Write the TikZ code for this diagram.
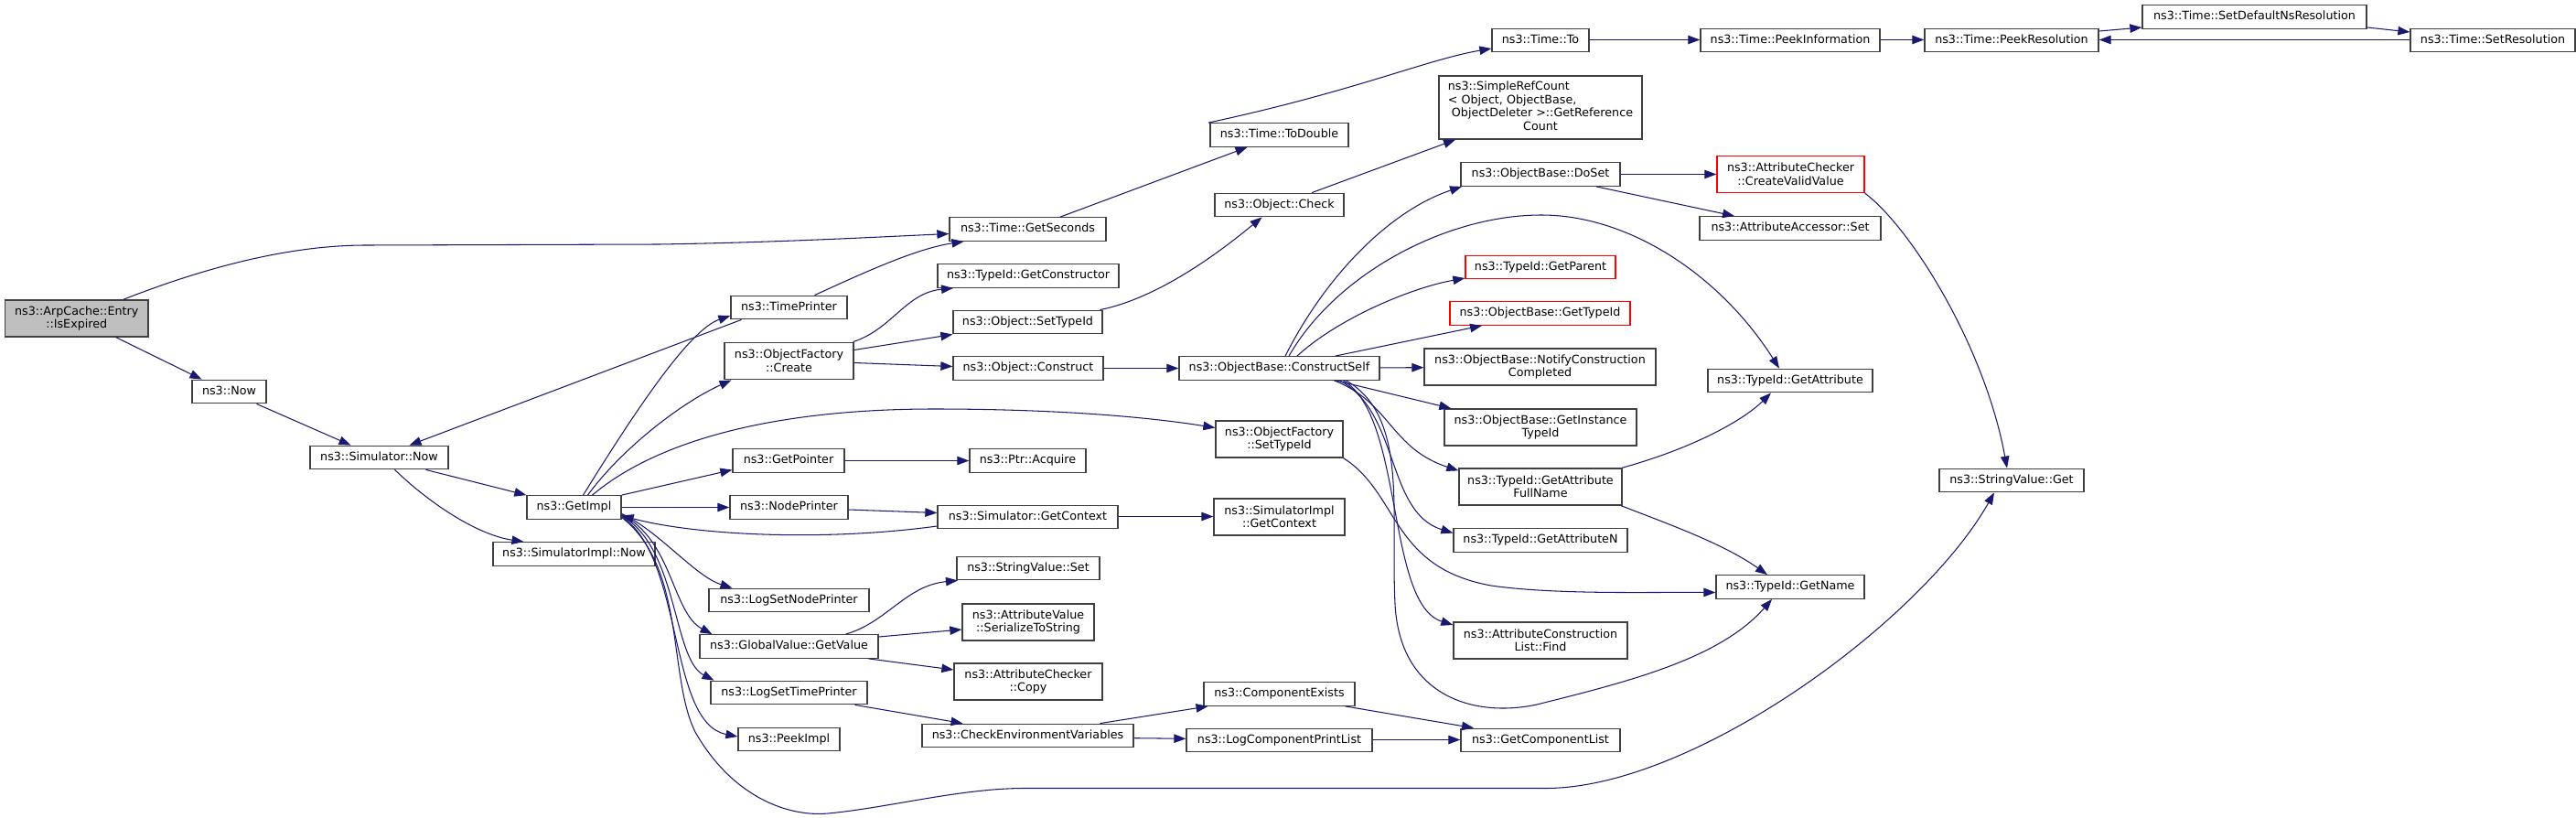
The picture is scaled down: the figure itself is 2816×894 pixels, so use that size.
\documentclass[tikz,border=0pt]{standalone}
\usepackage{fontspec}
\setmainfont{DejaVu Sans}
\usetikzlibrary{arrows.meta}
\definecolor{edgec}{RGB}{25,25,112}
\definecolor{nodegray}{RGB}{191,191,191}
\newcommand\dvsfont{\fontsize{12.7}{14.5}\selectfont}
\begin{document}
\begin{tikzpicture}[x=1pt,y=-1pt,
  nb/.style={draw=black!75, line width=1.3pt, fill=white, inner sep=0pt, font=\dvsfont, minimum height=25.5pt, text height=9.5pt, text depth=3pt},
  nbb/.style={draw=black!75, line width=1.3pt, fill=white, inner sep=0pt, font=\dvsfont, align=center, minimum height=40pt},
  redb/.style={draw=red},
  ed/.style={draw=edgec, line width=1.05pt, -{Triangle[length=13pt,width=9.5pt]}},
]
\useasboundingbox (0,0) rectangle (2816,894);
\fill[white] (0,0) rectangle (2816,894);

% column 0
\node[nbb, fill=nodegray, minimum width=156.5pt] (isexp) at (83.75,348) {ns3::ArpCache::Entry\\::IsExpired};
\node[nb, minimum width=81pt] (now) at (250.5,428) {ns3::Now};
\node[nb, minimum width=151pt] (simnow) at (414.5,500) {ns3::Simulator::Now};
\node[nb, minimum width=103pt] (getimpl) at (627.5,554.5) {ns3::GetImpl};
\node[nb, minimum width=177pt] (simimplnow) at (627.5,605.5) {ns3::SimulatorImpl::Now};

% column 862.5
\node[nb, minimum width=127pt] (timeprinter) at (862.5,336) {ns3::TimePrinter};
\node[nbb, minimum width=141pt, minimum height=40.5pt] (ofcreate) at (862.5,394.5) {ns3::ObjectFactory\\::Create};
\node[nb, minimum width=122pt] (getpointer) at (862,503.5) {ns3::GetPointer};
\node[nb, minimum width=129pt] (nodeprinter) at (862.5,554.5) {ns3::NodePrinter};
\node[nb, minimum width=175pt] (logsetnode) at (862.5,656) {ns3::LogSetNodePrinter};
\node[nb, minimum width=195pt] (getvalue) at (862.5,706.5) {ns3::GlobalValue::GetValue};
\node[nb, minimum width=171pt] (logsettime) at (862.5,757) {ns3::LogSetTimePrinter};
\node[nb, minimum width=111pt] (peekimpl) at (862.5,808) {ns3::PeekImpl};

% column 1123.5
\node[nb, minimum width=171pt] (getseconds) at (1123.5,250.5) {ns3::Time::GetSeconds};
\node[nb, minimum width=198pt] (getconstructor) at (1124,301.5) {ns3::TypeId::GetConstructor};
\node[nb, minimum width=163pt] (objsettypeid) at (1123.5,352) {ns3::Object::SetTypeId};
\node[nb, minimum width=164pt] (construct) at (1124,402.5) {ns3::Object::Construct};
\node[nb, minimum width=127pt] (ptracquire) at (1123.5,503.5) {ns3::Ptr::Acquire};
\node[nb, minimum width=197pt] (simgetcontext) at (1123.5,565) {ns3::Simulator::GetContext};
\node[nb, minimum width=156pt] (strset) at (1124,621) {ns3::StringValue::Set};
\node[nbb, minimum width=144pt] (serialize) at (1124,680) {ns3::AttributeValue\\::SerializeToString};
\node[nbb, minimum width=162pt] (checkercopy) at (1124,745) {ns3::AttributeChecker\\::Copy};
\node[nb, minimum width=231pt] (checkenv) at (1123.5,804) {ns3::CheckEnvironmentVariables};

% column 1398.5
\node[nb, minimum width=151pt] (todouble) at (1398.5,147.5) {ns3::Time::ToDouble};
\node[nb, minimum width=141pt] (objcheck) at (1398.5,224) {ns3::Object::Check};
\node[nb, minimum width=219pt] (constructself) at (1398.5,402.5) {ns3::ObjectBase::ConstructSelf};
\node[nbb, minimum width=139pt] (ofsettypeid) at (1398.5,480) {ns3::ObjectFactory\\::SetTypeId};
\node[nbb, minimum width=143pt] (simimplgetcontext) at (1398.5,565) {ns3::SimulatorImpl\\::GetContext};
\node[nb, minimum width=165pt] (compexists) at (1398.5,758.5) {ns3::ComponentExists};
\node[nb, minimum width=203pt] (logcompprint) at (1398.5,809) {ns3::LogComponentPrintList};

% column 1684
\node[nb, minimum width=106pt] (timeto) at (1684,44) {ns3::Time::To};
\node[draw=black!75, line width=1.3pt, fill=white, inner sep=0pt, font=\dvsfont, minimum width=222pt, minimum height=69pt] (simplerefcount) at (1684,117.5)
  {\begin{tabular}{@{}l@{}}ns3::SimpleRefCount\\< Object, ObjectBase,\\\ ObjectDeleter >::GetReference\\\multicolumn{1}{@{}c@{}}{Count}\end{tabular}};
\node[nb, minimum width=174pt] (doset) at (1684,190.5) {ns3::ObjectBase::DoSet};
\node[nb, redb, minimum width=164pt] (getparent) at (1684,292) {ns3::TypeId::GetParent};
\node[nb, redb, minimum width=197pt] (objgettypeid) at (1683.5,342.5) {ns3::ObjectBase::GetTypeId};
\node[nbb, minimum width=253pt] (notify) at (1683.5,401) {ns3::ObjectBase::NotifyConstruction\\Completed};
\node[nbb, minimum width=210pt] (getinstance) at (1684,467) {ns3::ObjectBase::GetInstance\\TypeId};
\node[nbb, minimum width=178pt] (getattrfullname) at (1684,532) {ns3::TypeId::GetAttribute\\FullName};
\node[nb, minimum width=190pt] (getattrn) at (1684,590.5) {ns3::TypeId::GetAttributeN};
\node[nbb, minimum width=190pt] (findattr) at (1684,700) {ns3::AttributeConstruction\\List::Find};
\node[nb, minimum width=174pt] (getcomplist) at (1684,809) {ns3::GetComponentList};

% column 1957
\node[nb, minimum width=196pt] (peekinfo) at (1957,44) {ns3::Time::PeekInformation};
\node[nbb, redb, minimum width=161pt] (createvalid) at (1957.5,190.5) {ns3::AttributeChecker\\::CreateValidValue};
\node[nb, minimum width=198pt] (accessorset) at (1957,249.5) {ns3::AttributeAccessor::Set};
\node[nb, minimum width=180pt] (getattribute) at (1957,416) {ns3::TypeId::GetAttribute};
\node[nb, minimum width=162pt] (getname) at (1957,641.5) {ns3::TypeId::GetName};

% right columns
\node[nb, minimum width=190pt] (peekres) at (2199,44) {ns3::Time::PeekResolution};
\node[nb, minimum width=158pt] (strget) at (2199,525) {ns3::StringValue::Get};
\node[nb, minimum width=245pt] (setdefault) at (2464.5,18.5) {ns3::Time::SetDefaultNsResolution};
\node[nb, minimum width=180pt] (setres) at (2725,44) {ns3::Time::SetResolution};

% edges
\draw[ed] ([xshift=51pt]isexp.north) .. controls (230,290) and (320,268) .. (400,268) -- (720,267) .. controls (850,265) and (960,259) .. ([yshift=-5pt]getseconds.west);
\draw[ed] ([xshift=43pt]isexp.south) -- ([xshift=-30pt]now.north);
\draw[ed] ([xshift=30pt]now.south) -- ([xshift=-31pt]simnow.north);
\draw[ed] ([xshift=-52pt]timeprinter.south) -- ([xshift=33pt]simnow.north);
\draw[ed] ([xshift=51pt]simnow.south) -- (getimpl.north west);
\draw[ed] ([xshift=17pt]simnow.south) .. controls (475,555) and (525,585) .. ([xshift=-55pt]simimplnow.north);
\draw[ed] ([xshift=10pt]getimpl.north) .. controls (700,440) and (755,360) .. ([yshift=-9pt]timeprinter.west);
\draw[ed] ([xshift=15pt]getimpl.north) .. controls (680,490) and (745,440) .. ([xshift=-63pt]ofcreate.south);
\draw[ed] ([xshift=20pt]getimpl.north) .. controls (720,480) and (850,447) .. (1021,447) .. controls (1150,447) and (1250,455) .. ([yshift=12.5pt]ofsettypeid.west);
\draw[ed] (getimpl.north east) -- ([yshift=-10pt]getpointer.west);
\draw[ed] (getimpl) -- (nodeprinter);
\draw[ed] ([yshift=-10pt]simgetcontext.west) .. controls (900,592) and (760,585) .. ([yshift=-9pt]getimpl.east);
\draw[ed] ([yshift=-7pt]getimpl.east) .. controls (720,580) and (760,630) .. ([xshift=-62pt]logsetnode.north);
\draw[ed] ([yshift=-8pt]getimpl.east) .. controls (735,590) and (735,670) .. ([xshift=-84pt]getvalue.north);
\draw[ed] ([yshift=-9pt]getimpl.east) .. controls (742,600) and (735,720) .. ([xshift=-82pt]logsettime.north);
\draw[ed] ([yshift=-10pt]getimpl.east) .. controls (748,610) and (730,790) .. ([yshift=3pt]peekimpl.west);
\draw[ed] ([yshift=-11pt]getimpl.east) .. controls (750,620) and (730,740) .. (760,800) .. controls (800,870) and (860,893) .. (905,889) .. controls (970,883) and (1050,861.5) .. (1120,861.5) -- (1690,861.5) .. controls (1850,861.5) and (2100,680) .. ([xshift=-19pt]strget.south);
\draw[ed] ([xshift=28pt]timeprinter.north) .. controls (940,300) and (1000,272) .. ([xshift=-70pt]getseconds.south);
\draw[ed] ([xshift=70pt]ofcreate.north) .. controls (975,360) and (990,320) .. ([xshift=-82pt]getconstructor.south);
\draw[ed] ([yshift=12pt]ofcreate.east) -- ([yshift=-13.5pt]objsettypeid.west);
\draw[ed] ([yshift=-2pt]ofcreate.east) -- ([yshift=2pt]construct.west);
\draw[ed] ([xshift=79pt]objsettypeid.north) .. controls (1270,325) and (1340,270) .. ([xshift=-19pt]objcheck.south);
\draw[ed] (construct) -- (constructself);
\draw[ed] ([xshift=35.5pt]getseconds.north) -- ([xshift=-35pt]todouble.south);
\draw[ed] ([xshift=-77.5pt]todouble.north) .. controls (1480,100) and (1560,65) .. ([yshift=-9pt]timeto.west);
\draw[ed] ([xshift=35.5pt]objcheck.north) -- ([xshift=-93pt]simplerefcount.south);
\draw[ed] ([yshift=0.5pt]timeto.east) -- ([yshift=0.5pt]peekinfo.west);
\draw[ed] ([yshift=0.5pt]peekinfo.east) -- ([yshift=0.5pt]peekres.west);
\draw[ed] ([yshift=10pt]peekres.east) -- ([yshift=-11.5pt]setdefault.west);
\draw[ed] ([yshift=-11.5pt]setdefault.east) -- ([yshift=9pt]setres.west);
\draw[ed] ([yshift=0.5pt]setres.west) -- ([yshift=0.5pt]peekres.east);
\draw[ed] ([xshift=6.5pt]constructself.north) .. controls (1450,300) and (1520,230) .. ([xshift=-86pt]doset.south);
\draw[ed] ([xshift=10.5pt]constructself.north) .. controls (1460,300) and (1580,235) .. (1685,235) .. controls (1780,235) and (1880,300) .. ([xshift=-12pt]getattribute.north);
\draw[ed] ([xshift=19.5pt]constructself.north) .. controls (1460,350) and (1540,315) .. ([yshift=-12pt]getparent.west);
\draw[ed] ([xshift=61pt]constructself.north) -- ([xshift=-63.5pt]objgettypeid.south);
\draw[ed] (constructself) -- (notify);
\draw[ed] ([xshift=62pt]constructself.south) -- ([xshift=8pt]getinstance.north west);
\draw[ed] ([xshift=60pt]constructself.south) .. controls (1520,440) and (1520,490) .. ([yshift=-3pt]getattrfullname.north west);
\draw[ed] ([xshift=66pt]constructself.south) .. controls (1530,450) and (1515,560) .. ([yshift=8pt]getattrn.west);
\draw[ed] ([xshift=70pt]constructself.south) .. controls (1535,455) and (1515,660) .. ([yshift=17pt]findattr.west);
\draw[ed] ([xshift=73pt]constructself.south) .. controls (1540,455) and (1520,560) .. (1525,660) .. controls (1530,760) and (1610,785) .. (1680,770) .. controls (1780,745) and (1880,720) .. ([xshift=-20pt]getname.south);
\draw[ed] (ofsettypeid.south east) .. controls (1530,540) and (1520,620) .. (1630,640) .. controls (1700,650) and (1800,647) .. ([yshift=-6pt]getname.west);
\draw[ed] ([xshift=89pt]getattrfullname.north) .. controls (1850,490) and (1905,460) .. ([xshift=-21pt]getattribute.south);
\draw[ed] ([xshift=88pt]getattrfullname.south) .. controls (1830,575) and (1885,595) .. ([xshift=-25pt]getname.north);
\draw[ed] (doset) -- (createvalid);
\draw[ed] ([xshift=61pt]doset.south) -- ([xshift=-61pt]accessorset.north);
\draw[ed] (createvalid.south east) .. controls (2090,250) and (2170,380) .. ([xshift=-5pt]strget.north);
\draw[ed] ([xshift=62pt]getvalue.north) .. controls (970,680) and (990,640) .. ([xshift=-77pt]strset.south);
\draw[ed] ([yshift=10.5pt]getvalue.east) -- ([yshift=-8pt]serialize.west);
\draw[ed] ([xshift=87pt]getvalue.south) -- ([yshift=13pt]checkercopy.west);
\draw[ed] ([xshift=72pt]logsettime.south) -- ([xshift=-71pt]checkenv.north);
\draw[ed] ([xshift=79pt]checkenv.north) -- ([xshift=-78pt]compexists.south);
\draw[ed] ([yshift=-2.7pt]checkenv.east) -- ([yshift=1.7pt]logcompprint.west);
\draw[ed] ([xshift=72pt]compexists.south) -- ([xshift=-73pt]getcomplist.north);
\draw[ed] ([yshift=0.5pt]logcompprint.east) -- ([yshift=0.5pt]getcomplist.west);
\draw[ed] (getpointer) -- (ptracquire);
\draw[ed] ([yshift=-2.5pt]nodeprinter.east) -- ([yshift=4.5pt]simgetcontext.west);
\draw[ed] ([yshift=0.5pt]simgetcontext.east) -- ([yshift=0.5pt]simimplgetcontext.west);
\end{tikzpicture}
\end{document}
